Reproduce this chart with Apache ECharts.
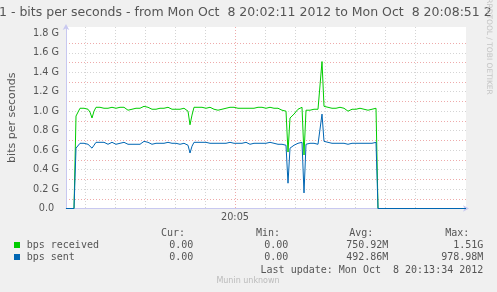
<!DOCTYPE html>
<html><head><meta charset="utf-8">
<script src="https://cdn.jsdelivr.net/npm/echarts@6/dist/echarts.min.js"></script>
<style>html,body{margin:0;padding:0;background:#f0f0f0}#c{width:497px;height:292px}</style>
</head><body><div id="c"></div>
<script>
const titleText = '1 - bits per seconds - from Mon Oct  8 20:02:11 2012 to Mon Oct  8 20:08:51 2';
const yAxisName = 'bits per seconds';
const seriesNames = ['bps received', 'bps sent'];
const sampleStep = 2; // seconds between samples, starting 20:02:11
// values in G (bits per second / 1e9)
const received = [
 0,0,0,0,0,0.95,0.96,1.03,1.04,1.03,
 1.03,1.02,0.99,0.93,1.00,1.04,1.05,1.04,1.05,1.03,
 1.02,1.03,1.02,1.04,1.03,1.03,1.05,1.04,1.02,1.04,
 1.03,1.01,1.03,1.02,1.01,1.03,1.02,1.03,1.02,1.05,
 1.06,1.04,1.03,1.02,1.04,1.02,1.01,1.03,1.02,1.03,
 1.02,1.04,1.03,1.02,1.03,1.02,1.03,1.02,1.02,1.03,
 1.02,1.00,0.86,0.96,1.04,1.05,1.04,1.03,1.04,1.02,
 1.03,1.02,1.04,1.03,1.02,1.03,1.01,1.03,1.02,1.04,
 1.03,1.05,1.04,1.03,1.04,1.02,1.03,1.01,1.03,1.02,
 1.03,1.02,1.03,1.02,1.03,1.02,1.04,1.03,1.04,1.02,
 1.03,1.03,1.04,1.05,1.03,1.02,1.03,1.02,1.01,1.01,
 1.00,0.58,0.93,0.94,0.97,0.99,1.02,1.01,1.04,0.55,
 1.01,1.02,1.01,1.02,1.02,1.03,1.02,1.03,1.51,1.05,
 1.05,1.04,1.04,1.03,1.02,1.03,1.02,1.04,1.02,1.03,
 1.02,1.00,1.01,1.02,1.03,1.02,1.04,1.03,1.04,1.02,
 1.00,1.01,1.03,1.02,1.03,1.03,0,0,0,0,
 0,0,0,0,0,0,0,0,0,0,
 0,0,0,0,0,0,0,0,0,0,
 0,0,0,0,0,0,0,0,0,0,
 0,0,0,0,0,0,0,0,0,0,
 0
];
const sent = [
 0,0,0,0,0,0.62,0.63,0.67,0.68,0.67,
 0.67,0.66,0.65,0.62,0.65,0.68,0.69,0.68,0.67,0.68,
 0.67,0.66,0.67,0.68,0.67,0.66,0.68,0.67,0.67,0.68,
 0.67,0.66,0.67,0.66,0.67,0.66,0.67,0.66,0.67,0.69,
 0.70,0.68,0.67,0.66,0.68,0.67,0.66,0.67,0.66,0.67,
 0.67,0.68,0.67,0.67,0.66,0.67,0.67,0.66,0.67,0.67,
 0.66,0.65,0.57,0.64,0.68,0.69,0.68,0.67,0.68,0.67,
 0.68,0.67,0.67,0.68,0.67,0.66,0.67,0.66,0.67,0.68,
 0.67,0.69,0.68,0.67,0.67,0.66,0.67,0.66,0.67,0.67,
 0.68,0.67,0.66,0.67,0.67,0.66,0.67,0.68,0.67,0.66,
 0.67,0.67,0.68,0.69,0.67,0.67,0.66,0.66,0.66,0.66,
 0.65,0.26,0.62,0.63,0.65,0.66,0.67,0.67,0.68,0.16,
 0.66,0.66,0.67,0.66,0.67,0.67,0.66,0.67,0.97,0.69,
 0.69,0.68,0.68,0.67,0.68,0.67,0.66,0.67,0.66,0.67,
 0.67,0.66,0.66,0.67,0.68,0.67,0.68,0.67,0.68,0.67,
 0.66,0.67,0.68,0.67,0.68,0.68,0,0,0,0,
 0,0,0,0,0,0,0,0,0,0,
 0,0,0,0,0,0,0,0,0,0,
 0,0,0,0,0,0,0,0,0,0,
 0,0,0,0,0,0,0,0,0,0,
 0
];
// x axis in seconds since 20:02:11
const xRange = [0, 400];
const xGridSeconds = [19,49,79,109,139,169,199,229,259,289,319,349,379];
const xMajorSecond = 169;
const xLabelSeconds = [169];
const xLabelTexts = ['20:05'];
const yRange = [0, 1.865];
const yGridValues = [0,0.1,0.2,0.3,0.4,0.5,0.6,0.7,0.8,0.9,1.0,1.1,1.2,1.3,1.4,1.5,1.6,1.7,1.8];
const yLabelValues = [0,0.2,0.4,0.6,0.8,1.0,1.2,1.4,1.6,1.8];
const statsHeader = ['Cur:', 'Min:', 'Avg:', 'Max:'];
const statsReceived = ['0.00', '0.00', '750.92M', '1.51G'];
const statsSent = ['0.00', '0.00', '492.86M', '978.98M'];
const lastUpdate = 'Last update: Mon Oct  8 20:13:34 2012';
const footer = 'Munin unknown';
const watermark = 'RRDTOOL / TOBI OETIKER';

const colors = ['#00cc00', '#0066b3'];
const textColor = '#555555';
const minorGrid = '#d4d4d4';
const majorGrid = '#eeaaaa';
const axisColor = '#c8c8f0';
const mono = '"DejaVu Sans Mono", monospace';
const sans = '"DejaVu Sans", sans-serif';

const chart = echarts.init(document.getElementById('c'), null, {renderer: 'canvas'});
const toPairs = arr => arr.map((v, i) => [i * sampleStep, v]);

const xSplitColors = xGridSeconds.map(s => s === xMajorSecond ? majorGrid : minorGrid);
const ySplitColors = yGridValues.map(v => yLabelValues.includes(v) ? majorGrid : minorGrid);

const headerRight = [185, 280, 373.3, 469.3];
const valueRight = [193.3, 288.3, 388.3, 483.3];
const graphics = [];
const addText = (text, x, y, opts) => graphics.push({type: 'text', x, y, silent: true,
  style: Object.assign({text, fill: textColor, font: '10px ' + mono, textAlign: 'right', textVerticalAlign: 'middle'}, opts || {})});
statsHeader.forEach((t, i) => addText(t, headerRight[i], 233.3));
statsReceived.forEach((t, i) => addText(t, valueRight[i], 245.3));
statsSent.forEach((t, i) => addText(t, valueRight[i], 257.5));
addText(lastUpdate, 483.3, 270);
addText(footer, 248, 280.7, {fill: '#bbbbbb', font: '8px ' + sans, textAlign: 'center'});
addText(titleText, -1, 12.5, {font: '12.5px ' + sans, textAlign: 'left'});
graphics.push({type: 'text', x: 488.7, y: 46.5, rotation: -Math.PI / 2, silent: true,
  style: {text: watermark, fill: '#c4c4c4', font: '7.5px ' + sans, textAlign: 'center', textVerticalAlign: 'middle'}});
// legend color boxes
graphics.push({type: 'rect', shape: {x: 14, y: 242, width: 6, height: 6}, style: {fill: colors[0]}, silent: true});
graphics.push({type: 'rect', shape: {x: 14, y: 254, width: 6, height: 6}, style: {fill: colors[1]}, silent: true});
addText(seriesNames[0], 26.7, 245.3, {textAlign: 'left'});
addText(seriesNames[1], 26.7, 257.5, {textAlign: 'left'});

chart.setOption({
  animation: false,
  backgroundColor: '#f0f0f0',
  grid: {left: 66, right: 31, top: 27, bottom: 83.5, show: true, backgroundColor: '#ffffff', borderWidth: 0,
    containLabel: false, outerBoundsMode: 'none'},
  xAxis: {
    type: 'value', min: xRange[0], max: xRange[1],
    axisLine: {show: true, lineStyle: {color: axisColor, width: 1}, symbol: ['none', 'arrow'], symbolSize: [5, 6], symbolOffset: [0, 3]},
    axisTick: {show: false, customValues: xGridSeconds},
    axisLabel: {customValues: xLabelSeconds, color: textColor, fontFamily: sans, fontSize: 9.7, margin: 4,
      formatter: v => xLabelTexts[xLabelSeconds.indexOf(v)] || ''},
    splitLine: {show: true, showMinLine: true, showMaxLine: false, lineStyle: {color: xSplitColors, type: [1, 2], width: 1}}
  },
  yAxis: {
    type: 'value', min: yRange[0], max: yRange[1],
    name: yAxisName, nameLocation: 'middle', nameGap: 48, nameRotate: 90,
    nameTextStyle: {color: textColor, fontFamily: sans, fontSize: 11},
    axisLine: {show: true, lineStyle: {color: axisColor, width: 1}, symbol: ['none', 'arrow'], symbolSize: [5, 6], symbolOffset: [0, 3]},
    axisTick: {show: false, customValues: yGridValues},
    axisLabel: {customValues: yLabelValues, color: textColor, fontFamily: sans, fontSize: 9.7, margin: 7,
      formatter: v => v === 0 ? '0.0\u2002' : v.toFixed(1) + ' G'},
    splitLine: {show: true, showMinLine: false, showMaxLine: false, lineStyle: {color: ySplitColors, type: [1, 2], width: 1}}
  },
  series: [
    {name: seriesNames[0], type: 'line', data: toPairs(received), showSymbol: false, symbol: 'none',
      lineStyle: {color: colors[0], width: 1}, itemStyle: {color: colors[0]}, z: 3},
    {name: seriesNames[1], type: 'line', data: toPairs(sent), showSymbol: false, symbol: 'none',
      lineStyle: {color: colors[1], width: 1}, itemStyle: {color: colors[1]}, z: 4}
  ],
  graphic: graphics
});
</script></body></html>
